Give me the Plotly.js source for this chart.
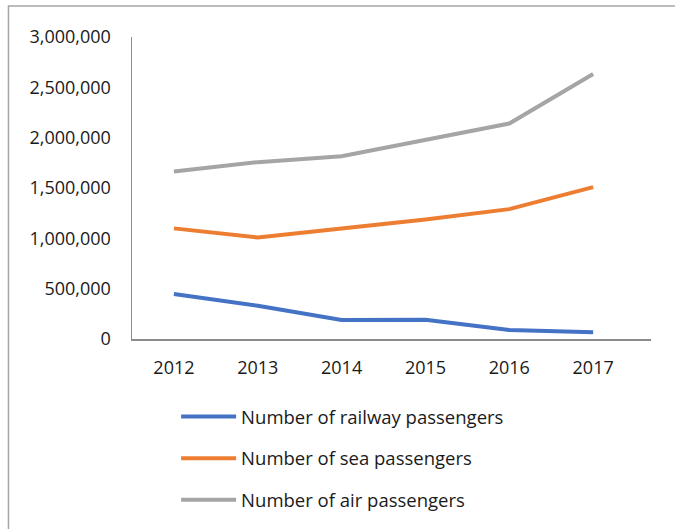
<!DOCTYPE html>
<html>
<head>
<meta charset="utf-8">
<script src="https://cdn.plot.ly/plotly-3.0.1.min.js"></script>
<style>html,body{margin:0;padding:0;background:#fff;}#chart{width:675px;height:529px;}</style>
</head>
<body>
<div id="chart"></div>
<script>
const years = ['2012', '2013', '2014', '2015', '2016', '2017'];
const railway = [447000, 331000, 189000, 190000, 89000, 66000];
const sea = [1099000, 1008000, 1097000, 1187000, 1290000, 1508000];
const air = [1665000, 1757000, 1815000, 1980000, 2140000, 2632000];
const seriesNames = ['Number of railway passengers', 'Number of sea passengers', 'Number of air passengers'];
const seriesColors = ['#4472C4', '#ED7D31', '#A5A5A5'];
const yTicks = [0, 500000, 1000000, 1500000, 2000000, 2500000, 3000000];

const FONT = 'Open Sans, Noto Sans, sans-serif';
const seriesData = [railway, sea, air];
const traces = seriesData.map((vals, i) => ({
  type: 'scatter', mode: 'lines', x: years, y: vals, name: seriesNames[i],
  legendgroup: 'g' + i,
  line: {color: seriesColors[i], width: 4}
}));

const layout = {
  width: 675, height: 529,
  margin: {l: 132, r: 24, t: 37, b: 190, autoexpand: false},
  paper_bgcolor: '#fff', plot_bgcolor: '#fff',
  font: {family: FONT, size: 18, color: '#1a1a1a'},
  showlegend: true,
  legend: {orientation: 'v', x: 0.085, y: 0.2475, xref: 'paper', yref: 'container', xanchor: 'left', yanchor: 'top',
           itemwidth: 55, tracegroupgap: 14.5, font: {family: FONT, size: 18.5, color: '#1a1a1a'}},
  xaxis: {type: 'category', range: [-0.5, 5.69], showline: true, linecolor: '#8c8c8c', linewidth: 1.5,
          showgrid: false, zeroline: false, ticks: 'outside', ticklen: 12, tickcolor: 'rgba(0,0,0,0)',
          tickfont: {family: FONT, size: 18, color: '#1a1a1a'}, fixedrange: true},
  yaxis: {range: [0, 3000000], tickvals: yTicks, tickformat: ',d', showline: true, linecolor: '#8c8c8c', linewidth: 1.5,
          showgrid: false, zeroline: false, ticks: 'outside', ticklen: 16, tickcolor: 'rgba(0,0,0,0)',
          tickfont: {family: FONT, size: 18, color: '#1a1a1a'}, fixedrange: true},
  shapes: [{type: 'rect', xref: 'paper', yref: 'paper', x0: -0.238, x1: 1.3, y0: -1, y1: 1.1026,
            line: {color: '#a6a6a6', width: 1.5}, fillcolor: 'rgba(0,0,0,0)', layer: 'below'}]
};

Plotly.newPlot('chart', traces, layout, {displayModeBar: false, staticPlot: true});
</script>
</body>
</html>
